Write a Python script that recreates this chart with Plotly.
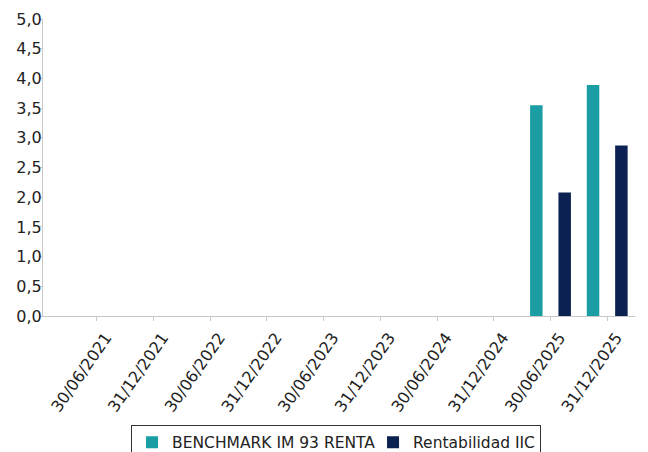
import plotly.graph_objects as go

categories = ["30/06/2021", "31/12/2021", "30/06/2022", "31/12/2022", "30/06/2023",
              "31/12/2023", "30/06/2024", "31/12/2024", "30/06/2025", "31/12/2025"]
benchmark = [None, None, None, None, None, None, None, None, 3.55, 3.89]
rentabilidad = [None, None, None, None, None, None, None, None, 2.08, 2.87]
y_ticks = [0, 0.5, 1, 1.5, 2, 2.5, 3, 3.5, 4, 4.5, 5]
title_text = "Rentabilidad semestral de los últimos 5 años"

font_family = "DejaVu Sans"

fig = go.Figure()
fig.add_trace(go.Bar(x=categories, y=benchmark, name="BENCHMARK IM 93 RENTA",
                     legendwidth=196,
                     marker=dict(color="#1a9ea3", line=dict(width=0))))
fig.add_trace(go.Bar(x=categories, y=rentabilidad, name="Rentabilidad IIC",
                     marker=dict(color="#0b2152", line=dict(width=0))))

fig.update_layout(
    width=648, height=452,
    margin=dict(l=35, r=21, t=11, b=144, autoexpand=False),
    paper_bgcolor="white", plot_bgcolor="white",
    separators=",.",
    barmode="group", bargap=0.0, bargroupgap=0.56,
    font=dict(family=font_family, color="#333333", size=15),
    title=dict(text=title_text, xref="container", x=0.517, xanchor="center",
               yref="container", y=1.0, yanchor="bottom", pad=dict(b=2),
               font=dict(family=font_family, size=18, color="#555555")),
    showlegend=True,
    legend=dict(orientation="h", xref="paper", x=0.495, xanchor="center",
                y=0.078, yanchor="top", yref="container",
                bordercolor="#333333", borderwidth=1,
                font=dict(family=font_family, size=15.5, color="#222222"),
                itemsizing="constant", traceorder="normal", itemwidth=30),
)
fig.update_xaxes(
    type="category", range=[-0.95, 9.49], automargin=False,
    showline=True, linecolor="#c8c8c8", linewidth=1,
    ticks="outside", ticklen=4, tickcolor="#c8c8c8",
    tickangle=-55, ticklabelstandoff=1, ticklabelshift=9,
    showgrid=False, zeroline=False,
    tickfont=dict(family=font_family, size=16, color="#222222"),
)
fig.update_yaxes(
    range=[0, 5], tickvals=y_ticks, tickformat=".1f", automargin=False,
    showline=True, linecolor="#c8c8c8", linewidth=1,
    ticks="outside", ticklen=3, tickcolor="#c8c8c8",
    ticklabelstandoff=-6,
    showgrid=False, zeroline=False,
    tickfont=dict(family=font_family, size=16, color="#222222"),
)

fig.write_html("out.html")
